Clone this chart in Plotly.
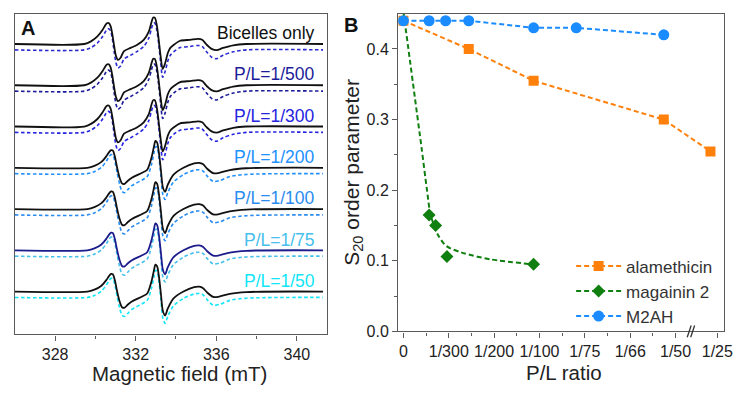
import plotly.graph_objects as go

W, H = 756, 404

# ---------------- Panel A: EPR spectra (arbitrary units) -------------
FIELD_TOP = [326.0, 329.45, 329.78, 330.10, 330.35, 330.47, 330.57, 330.66, 330.75, 330.84, 330.93,
             331.02, 331.12, 331.25, 331.42, 331.75, 332.08, 332.40, 332.65, 332.78, 332.87, 332.95,
             333.05, 333.14, 333.24, 333.34, 333.45, 333.60, 333.72, 333.88, 334.21, 334.70, 335.10,
             335.30, 335.52, 335.77, 336.02, 336.34, 336.84, 337.49, 341.3]
SOLID_TOP = [0, 0, 2.7, 7.7, 14.3, 18.5, 21.3, 21.5, 18.5, 10.0, -2.0,
             -12.0, -16.3, -14.0, -7.3, -4.0, -0.7, 4.3, 12.7, 22.0, 27.0, 27.0,
             19.0, 5.0, -13.0, -25.5, -20.5, -9.0, -4.0, -1.0, 3.3, 4.3, 5.3,
             4.3, -0.7, -5.0, -6.3, -4.0, -1.3, 0, 0]
DASH_TOP = [0, 0, 2.3, 7.0, 13.5, 17.5, 20.8, 21.5, 19.5, 11.5, -1.5,
            -13.0, -18.5, -16.5, -9.5, -5.5, -1.5, 3.5, 12.0, 21.5, 27.0, 27.5,
            20.0, 6.5, -13.0, -28.0, -23.0, -11.0, -5.5, -2.0, 2.3, 3.5, 4.5,
            3.5, -2.0, -7.5, -9.0, -5.5, -2.0, 0, 0]

FIELD_BOT = [326.0, 329.6, 329.95, 330.3, 330.55, 330.68, 330.78, 330.87, 330.96, 331.08, 331.2,
             331.32, 331.45, 331.6, 331.83, 332.32, 332.57, 332.78, 332.9, 332.98, 333.06, 333.15,
             333.25, 333.35, 333.46, 333.6, 333.88, 334.37, 334.9, 335.15, 335.35, 335.55, 335.85,
             336.18, 336.67, 337.49, 341.3]
SOLID_BOT = [0, 0, 2.0, 6.0, 12.0, 16.0, 18.0, 17.5, 12.0, 0, -10.0,
             -16.0, -16.5, -13.5, -10.0, -5.0, -2.0, 10.0, 21.0, 27.5, 26.0, 16.0,
             -2.0, -20.0, -24.5, -17.0, -7.0, 0, 4.5, 5.0, 3.5, -1.0, -5.5,
             -5.0, -2.3, -0.5, 0]
DASH_BOT = [0, 0, 2.0, 6.5, 13.0, 17.5, 19.5, 19.0, 13.5, 1.0, -10.5,
            -18.0, -19.5, -16.5, -12.0, -6.5, -3.0, 9.0, 20.5, 27.5, 27.0, 17.0,
            -2.0, -21.5, -26.5, -19.0, -8.5, -1.0, 3.5, 4.0, 2.5, -2.5, -8.0,
            -7.0, -3.0, -0.8, 0]

SAMPLES = ["Bicelles only", "P/L=1/500", "P/L=1/300", "P/L=1/200", "P/L=1/100", "P/L=1/75", "P/L=1/50"]
SAMPLE_SHAPE = ["top", "top", "top", "bot", "bot", "bot", "bot"]

# ---------------- Panel B: order parameter vs P/L ratio -------------
PL_TICKS = ["0", "1/300", "1/200", "1/100", "1/75", "1/66", "1/50", "1/25"]
PL_TICK_POS = [0, 1, 2, 3, 4, 5, 6, 6.92]
ALA_X = [0, 1.44, 2.87, 5.74, 6.77]
ALA_S = [0.44, 0.40, 0.355, 0.30, 0.255]
MAG_X = [0.567, 0.71, 0.96, 2.87]
MAG_S = [0.165, 0.15, 0.106, 0.095]
MAG_FIT_X = [0.0, 0.11, 0.255, 0.40, 0.52, 0.60, 0.76, 0.945, 1.27, 1.93, 2.87]
MAG_FIT_S = [0.452, 0.40, 0.33, 0.26, 0.20, 0.165, 0.137, 0.121, 0.112, 0.102, 0.095]
M2AH_X = [0, 0.567, 0.93, 1.44, 2.87, 3.81, 5.74]
M2AH_S = [0.44, 0.44, 0.44, 0.44, 0.43, 0.43, 0.42]

# ---------------- styles ----------------
FONT = "Arial, Liberation Sans, sans-serif"
SOLID_COLORS = ["#111111"] * 5 + ["#1c1c8c", "#111111"]
DASH_COLORS = ["#2a2ad0", "#1c1c9a", "#2424e0", "#2090ff", "#2a8cf0", "#45c0ec", "#10e6f8"]
LABEL_COLORS = ["#111111", "#1c1c9a", "#2424e0", "#2090ff", "#2a8cf0", "#45c0ec", "#10e6f8"]
ORANGE, GREEN, BLUE = "#ff800a", "#0f7f0f", "#1a8cff"
AXCOL = "#5a5a5a"

TOP_BASE = 297.0
STEP = 42.2
DASH_DROP = 6.0


def px(x):
    return x / W


def py(y):
    return 1 - y / H


fig = go.Figure()

shapes_data = {"top": (FIELD_TOP, SOLID_TOP, DASH_TOP), "bot": (FIELD_BOT, SOLID_BOT, DASH_BOT)}
annotations = []
for i, name in enumerate(SAMPLES):
    fx, s_amp, d_amp = shapes_data[SAMPLE_SHAPE[i]]
    base = TOP_BASE - STEP * i
    fig.add_trace(go.Scatter(
        x=fx, y=[base - DASH_DROP + a for a in d_amp], mode="lines",
        line=dict(color=DASH_COLORS[i], width=1.6, dash="3.5px,2.5px", shape="spline", smoothing=0.8),
        xaxis="x", yaxis="y", showlegend=False, hoverinfo="skip"))
    fig.add_trace(go.Scatter(
        x=fx, y=[base + a for a in s_amp], mode="lines",
        line=dict(color=SOLID_COLORS[i], width=1.8, shape="spline", smoothing=0.8),
        xaxis="x", yaxis="y", showlegend=False, hoverinfo="skip"))
    annotations.append(dict(
        x=341.0, y=base + 11, xref="x", yref="y", xanchor="right", yanchor="middle",
        text=name, showarrow=False, font=dict(family=FONT, size=17.5, color=LABEL_COLORS[i])))

# Panel B
fig.add_trace(go.Scatter(
    x=ALA_X, y=ALA_S, mode="lines+markers", name="alamethicin",
    line=dict(color=ORANGE, width=2, dash="5px,3px"),
    marker=dict(symbol="square", size=10, color=ORANGE),
    xaxis="x2", yaxis="y2"))
fig.add_trace(go.Scatter(
    x=MAG_FIT_X, y=MAG_FIT_S, mode="lines",
    line=dict(color=GREEN, width=2, dash="5px,3px", shape="spline", smoothing=0.8),
    xaxis="x2", yaxis="y2", showlegend=False, hoverinfo="skip"))
fig.add_trace(go.Scatter(
    x=MAG_X, y=MAG_S, mode="markers", showlegend=False,
    marker=dict(symbol="diamond", size=10, color=GREEN),
    xaxis="x2", yaxis="y2"))
fig.add_trace(go.Scatter(
    x=[None], y=[None], mode="lines+markers", name="magainin 2",
    line=dict(color=GREEN, width=2, dash="5px,3px"),
    marker=dict(symbol="diamond", size=10, color=GREEN),
    xaxis="x2", yaxis="y2"))
fig.add_trace(go.Scatter(
    x=M2AH_X, y=M2AH_S, mode="lines+markers", name="M2AH",
    line=dict(color=BLUE, width=2, dash="5px,3px"),
    marker=dict(symbol="circle", size=11, color=BLUE),
    xaxis="x2", yaxis="y2"))

tickfont = dict(family=FONT, size=16, color="#222")
common = dict(showline=True, mirror=True, linecolor=AXCOL, linewidth=1.3, showgrid=False,
              zeroline=False, ticks="outside", ticklen=5, tickwidth=1.2, tickcolor=AXCOL,
              tickfont=tickfont)


def ann(x, y, text, size, bold=False, angle=0, color="#222"):
    return dict(x=px(x), y=py(y), xref="paper", yref="paper", xanchor="center", yanchor="middle",
                text=f"<b>{text}</b>" if bold else text, showarrow=False, textangle=angle,
                font=dict(family=FONT, size=size, color=color))


annotations += [
    ann(28, 29, "A", 20, bold=True, color="#111"),
    ann(355, 26, "B", 20, bold=True, color="#111"),
    ann(182, 382, "Magnetic field (mT)", 20.5),
    ann(571, 381, "P/L ratio", 20.5),
    ann(357, 176, "S<sub>20</sub> order parameter", 21, angle=-90),
]

fig.update_layout(
    width=W, height=H, margin=dict(l=0, r=0, t=0, b=0),
    paper_bgcolor="white", plot_bgcolor="white",
    font=dict(family=FONT),
    xaxis=dict(domain=[px(15), px(331)], range=[326, 341.5], anchor="y",
               tickvals=[328, 332, 336, 340],
               minor=dict(tickvals=[330, 334, 338], ticks="outside", ticklen=3, tickcolor=AXCOL),
               **common),
    yaxis=dict(domain=[py(342), py(14)], range=[0, 328], anchor="x",
               showline=True, mirror=True, linecolor=AXCOL, linewidth=1.3, showgrid=False,
               zeroline=False, ticks="", showticklabels=False),
    xaxis2=dict(domain=[px(403), px(733)], range=[-0.115, 7.074], anchor="y2",
                tickvals=PL_TICK_POS, ticktext=PL_TICKS,
                minor=dict(tickvals=[0.5, 1.5, 2.5, 3.5, 4.5, 5.5], ticks="outside", ticklen=3,
                           tickcolor=AXCOL),
                **common),
    yaxis2=dict(domain=[py(339), py(14)], range=[0, 0.45], anchor="x2",
                tickvals=[0, 0.1, 0.2, 0.3, 0.4], ticktext=["0.0", "0.1", "0.2", "0.3", "0.4"],
                minor=dict(tickvals=[0.05, 0.15, 0.25, 0.35], ticks="outside", ticklen=3,
                           tickcolor=AXCOL),
                **common),
    legend=dict(x=px(578), y=py(254), xanchor="left", yanchor="top",
                font=dict(family=FONT, size=17, color="#333"), bgcolor="rgba(0,0,0,0)",
                itemwidth=45, tracegroupgap=0),
    annotations=annotations,
    shapes=[
        dict(type="line", xref="paper", yref="paper", x0=px(695.5), y0=py(345), x1=px(699.5), y1=py(333),
             line=dict(color="#333", width=1.3)),
        dict(type="line", xref="paper", yref="paper", x0=px(699), y0=py(345), x1=px(703), y1=py(333),
             line=dict(color="#333", width=1.3)),
    ],
)

fig.write_html("out.html", config={"displayModeBar": False},
               post_script="document.body.style.margin='0';document.body.style.overflow='hidden';")
